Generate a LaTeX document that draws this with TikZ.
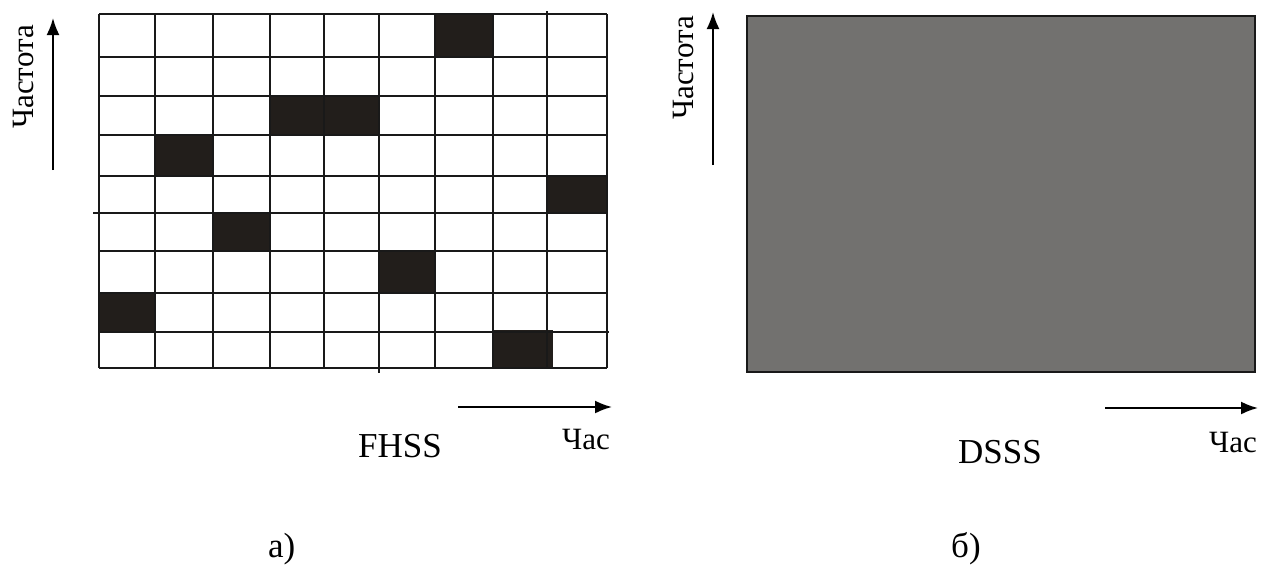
\documentclass[tikz,border=0pt]{standalone}
\usepackage{fontspec}
\setmainfont{Liberation Serif}
\usetikzlibrary{arrows.meta}
\definecolor{cellblack}{HTML}{221E1B}
\definecolor{dsssgray}{HTML}{72716F}
\begin{document}
\begin{tikzpicture}[x=1pt,y=-1pt,
  gridline/.style={line width=2.6pt,draw=black!90},
  axisarrow/.style={line width=2pt,-{Latex[length=17pt,width=13pt]}},
  lbl/.style={inner sep=0pt,font=\fontsize{31}{36}\selectfont},
  big/.style={inner sep=0pt,font=\fontsize{35}{40}\selectfont}]
\useasboundingbox (0,0) rectangle (1272,565);
% ---- FHSS grid ----
% black cells
\fill[cellblack] (435,14) rectangle (493,57);
\fill[cellblack] (270,96) rectangle (379,135);
\fill[cellblack] (155,135) rectangle (213,176);
\fill[cellblack] (547,176) rectangle (607,213);
\fill[cellblack] (213,213) rectangle (270,251);
\fill[cellblack] (379,251) rectangle (435,293);
\fill[cellblack] (99,293) rectangle (155,332);
\fill[cellblack] (493,330) rectangle (553,369);
% vertical lines
\foreach \x in {99,155,213,270,324,435,493,607}
  \draw[gridline] (\x,14) -- (\x,368);
\draw[gridline] (379,14) -- (379,373);
\draw[gridline] (547,11) -- (547,368);
% horizontal lines
\foreach \y in {14,57,96,135,176,251,293,368}
  \draw[gridline] (99,\y) -- (607,\y);
\draw[gridline] (93,213) -- (607,213);
\draw[gridline] (99,332) -- (609,332);
% axes FHSS
\coordinate (fy0) at (53,170);
\coordinate (fy1) at (53,18);
\draw[axisarrow] (fy0) -- (fy1);
\node[lbl,rotate=90] (fylab) at (24,77) {Частота};
\coordinate (fx0) at (458,407);
\coordinate (fx1) at (612,407);
\draw[axisarrow] (fx0) -- (fx1);
\node[lbl,anchor=base west] (fxlab) at (562,449) {Час};
\node[big,anchor=base west] (fhss) at (358,457) {FHSS};
\node[big,anchor=base west] (capa) at (268,557) {а)};
% ---- DSSS ----
\draw[fill=dsssgray,draw=black!90,line width=2.6pt] (747,16) rectangle (1255,372);
\coordinate (dy0) at (713,165);
\coordinate (dy1) at (713,12);
\draw[axisarrow] (dy0) -- (dy1);
\node[lbl,rotate=90] (dylab) at (683,68) {Частота};
\coordinate (dx0) at (1105,408);
\coordinate (dx1) at (1258,408);
\draw[axisarrow] (dx0) -- (dx1);
\node[lbl,anchor=base west] (dxlab) at (1209,452) {Час};
\node[big,anchor=base west] (dsss) at (958,463) {DSSS};
\node[big,anchor=base west] (capb) at (951,557) {б)};
\end{tikzpicture}
\end{document}
